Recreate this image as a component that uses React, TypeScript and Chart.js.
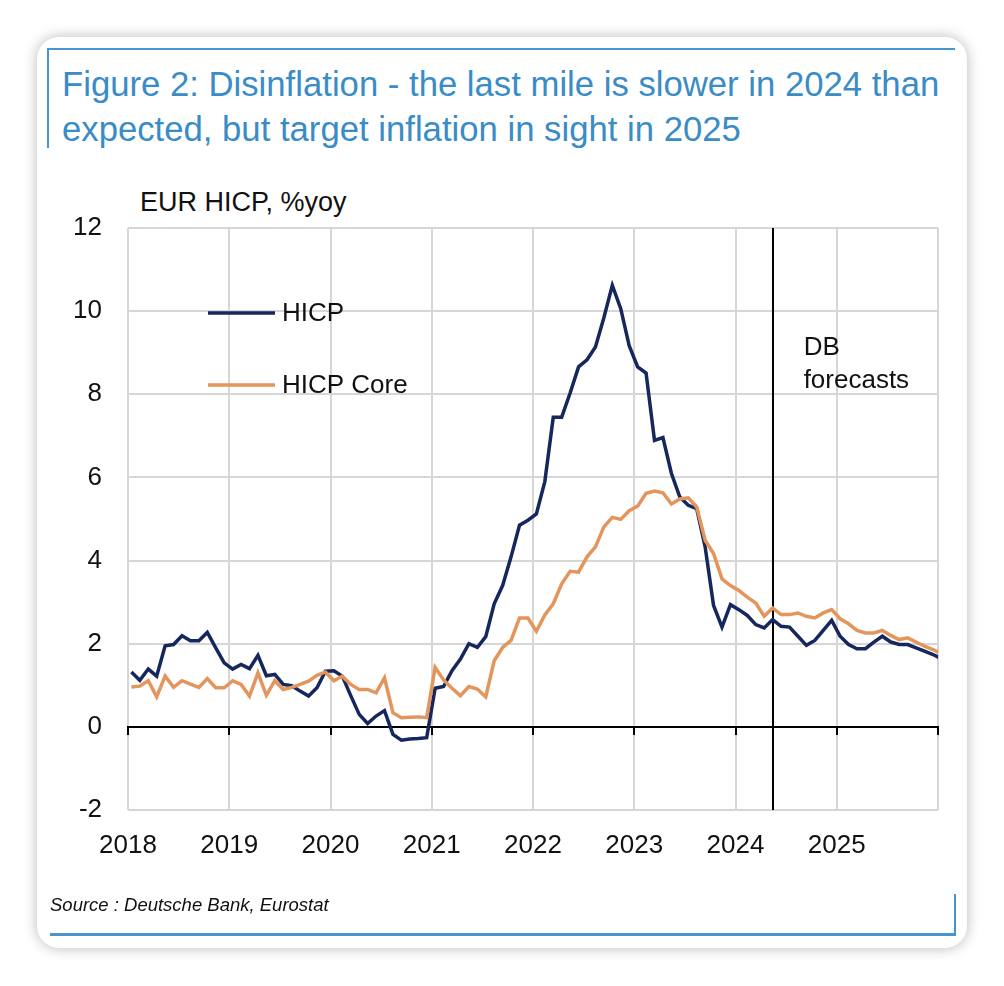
import React, { useEffect, useRef } from "react";
import { Chart, registerables } from "chart.js";

Chart.register(...registerables);

// ---- Data (monthly, Jan 2018 .. Jan 2026) ----
const YEAR_TICKS = ["2018", "2019", "2020", "2021", "2022", "2023", "2024", "2025"];
const FORECAST_START_INDEX = 76; // May 2024
const SERIES_NAMES = ["HICP", "HICP Core"];

const hicp2018 = [1.32, 1.12, 1.39, 1.22, 1.95, 1.98, 2.19, 2.07, 2.07, 2.27, 1.9, 1.54];
const hicp2019 = [1.39, 1.5, 1.4, 1.72, 1.23, 1.26, 1.02, 0.99, 0.86, 0.74, 0.94, 1.34];
const hicp2020 = [1.35, 1.22, 0.75, 0.3, 0.08, 0.26, 0.39, -0.18, -0.32, -0.29, -0.28, -0.26];
const hicp2021 = [0.93, 0.97, 1.35, 1.63, 2.0, 1.91, 2.17, 2.96, 3.4, 4.09, 4.85, 4.97];
const hicp2022 = [5.12, 5.9, 7.45, 7.45, 8.03, 8.66, 8.83, 9.14, 9.84, 10.62, 10.06, 9.17];
const hicp2023 = [8.66, 8.51, 6.89, 6.96, 6.1, 5.53, 5.33, 5.25, 4.33, 2.92, 2.4, 2.94];
const hicp2024 = [2.82, 2.68, 2.46, 2.38, 2.58, 2.42, 2.4, 2.18, 1.96, 2.08, 2.32, 2.56];
const hicp2025 = [2.18, 1.98, 1.88, 1.88, 2.04, 2.18, 2.04, 1.98, 1.98, 1.9, 1.82, 1.74];
const hicp2026 = [1.64];

const core2018 = [0.96, 0.98, 1.11, 0.72, 1.22, 0.95, 1.11, 1.03, 0.95, 1.16, 0.94, 0.94];
const core2019 = [1.11, 1.02, 0.74, 1.3, 0.76, 1.11, 0.9, 0.95, 1.02, 1.1, 1.24, 1.32];
const core2020 = [1.11, 1.22, 1.02, 0.9, 0.9, 0.82, 1.18, 0.34, 0.22, 0.23, 0.24, 0.22];
const core2021 = [1.43, 1.13, 0.93, 0.75, 0.97, 0.91, 0.72, 1.59, 1.91, 2.08, 2.62, 2.62];
const core2022 = [2.3, 2.69, 2.96, 3.44, 3.74, 3.72, 4.09, 4.33, 4.81, 5.04, 4.99, 5.2];
const core2023 = [5.31, 5.62, 5.67, 5.63, 5.36, 5.48, 5.51, 5.29, 4.49, 4.17, 3.56, 3.4];
const core2024 = [3.28, 3.12, 2.98, 2.66, 2.86, 2.7, 2.7, 2.74, 2.66, 2.62, 2.74, 2.82];
const core2025 = [2.6, 2.48, 2.32, 2.26, 2.26, 2.32, 2.2, 2.1, 2.14, 2.04, 1.94, 1.86];
const core2026 = [1.76];

const hicp = [
  ...hicp2018, ...hicp2019, ...hicp2020, ...hicp2021,
  ...hicp2022, ...hicp2023, ...hicp2024, ...hicp2025, ...hicp2026,
];
const core = [
  ...core2018, ...core2019, ...core2020, ...core2021,
  ...core2022, ...core2023, ...core2024, ...core2025, ...core2026,
];

const MONTH_OFFSET = 0.4; // mid-month placement relative to year gridline
const X_MAX = YEAR_TICKS.length * 12;

const NAVY = "#15275c";
const ORANGE = "#e3955b";
const GRID = "#d6d6d6";
const FONT = "'Liberation Sans', Arial, Helvetica, sans-serif";

const toXY = (arr: number[]) => arr.map((v, i) => ({ x: i + MONTH_OFFSET, y: v }));

const overlayPlugin = {
  id: "overlay",
  beforeDatasetsDraw(chart: any) {
    const { ctx, chartArea, scales } = chart;
    const x = scales.x;
    const y = scales.y;
    ctx.save();
    ctx.strokeStyle = "#000";
    ctx.lineWidth = 2;
    const y0 = Math.round(y.getPixelForValue(0));
    ctx.beginPath();
    ctx.moveTo(chartArea.left - 1, y0);
    ctx.lineTo(chartArea.right + 1, y0);
    for (let m = 0; m <= X_MAX; m += 12) {
      const px = Math.round(x.getPixelForValue(m));
      ctx.moveTo(px, y0);
      ctx.lineTo(px, y0 + 8);
    }
    ctx.stroke();
    // forecast divider
    const fx = Math.round(x.getPixelForValue(FORECAST_START_INDEX + MONTH_OFFSET));
    ctx.beginPath();
    ctx.moveTo(fx, chartArea.top);
    ctx.lineTo(fx, chartArea.bottom);
    ctx.stroke();
    ctx.restore();
  },
  afterDraw(chart: any) {
    const { ctx, chartArea, scales } = chart;
    const x = scales.x;
    ctx.save();
    const items = [
      { label: SERIES_NAMES[0], color: NAVY, yPx: chartArea.top + 85 },
      { label: SERIES_NAMES[1], color: ORANGE, yPx: chartArea.top + 157 },
    ];
    ctx.font = `26px ${FONT}`;
    ctx.textBaseline = "middle";
    ctx.textAlign = "left";
    items.forEach((it) => {
      ctx.strokeStyle = it.color;
      ctx.lineWidth = 3.5;
      ctx.beginPath();
      ctx.moveTo(chartArea.left + 80, it.yPx);
      ctx.lineTo(chartArea.left + 147, it.yPx);
      ctx.stroke();
      ctx.fillStyle = "#111";
      ctx.fillText(it.label, chartArea.left + 154, it.yPx + 1);
    });
    const fx = x.getPixelForValue(FORECAST_START_INDEX + MONTH_OFFSET);
    ctx.fillText("DB", fx + 31, chartArea.top + 120);
    ctx.fillText("forecasts", fx + 31, chartArea.top + 153);
    ctx.restore();
  },
};

function ChartCanvas() {
  const ref = useRef<HTMLCanvasElement | null>(null);
  useEffect(() => {
    if (!ref.current) return;
    const chart = new Chart(ref.current, {
      type: "line",
      data: {
        datasets: [
          {
            label: SERIES_NAMES[0],
            data: toXY(hicp),
            borderColor: NAVY,
            borderWidth: 3.5,
            pointRadius: 0,
            tension: 0,
            order: 1,
          },
          {
            label: SERIES_NAMES[1],
            data: toXY(core),
            borderColor: ORANGE,
            borderWidth: 3.5,
            pointRadius: 0,
            tension: 0,
            order: 0,
          },
        ],
      },
      options: {
        responsive: false,
        animation: false,
        devicePixelRatio: 1,
        layout: { padding: { left: 0, top: 228, right: 66, bottom: 0 } },
        plugins: {
          legend: { display: false },
          tooltip: { enabled: false },
          title: { display: false },
        },
        scales: {
          x: {
            type: "linear",
            min: 0,
            max: X_MAX,
            afterBuildTicks: (s: any) => {
              const t = [];
              for (let m = 0; m <= X_MAX; m += 12) t.push({ value: m });
              s.ticks = t;
            },
            ticks: {
              autoSkip: false,
              maxRotation: 0,
              padding: 20,
              color: "#111",
              font: { size: 26, family: FONT },
              callback: (v: any) => {
                const idx = Math.round(Number(v) / 12);
                return YEAR_TICKS[idx] ?? "";
              },
            },
            grid: { color: GRID, lineWidth: 2, drawTicks: false },
            border: { display: false },
            afterFit: (s: any) => {
              s.height = 176;
            },
          },
          y: {
            min: -2,
            max: 12,
            ticks: {
              stepSize: 2,
              padding: 26,
              color: "#111",
              font: { size: 26, family: FONT },
            },
            grid: { color: GRID, lineWidth: 2, drawTicks: false },
            border: { display: false },
            afterFit: (s: any) => {
              s.width = 128;
            },
          },
        },
      },
      plugins: [overlayPlugin],
    } as any);
    return () => chart.destroy();
  }, []);
  return (
    <canvas
      ref={ref}
      width={1004}
      height={986}
      style={{ position: "absolute", left: 0, top: 0, width: 1004, height: 986 }}
    />
  );
}

export default function App() {
  const blue = "#4a93cc";
  return (
    <div
      style={{
        position: "absolute",
        left: 0,
        top: 0,
        width: 1004,
        height: 986,
        background: "#ffffff",
        fontFamily: FONT,
        overflow: "hidden",
      }}
    >
      <div
        style={{
          position: "absolute",
          left: 37,
          top: 37,
          width: 930,
          height: 911,
          borderRadius: 22,
          background: "#fff",
          boxShadow: "0 0 14px rgba(0,0,0,0.28)",
        }}
      />
      <div style={{ position: "absolute", left: 48, top: 48, width: 907, height: 2, background: blue }} />
      <div style={{ position: "absolute", left: 47, top: 48, width: 2, height: 100, background: blue }} />
      <div style={{ position: "absolute", left: 50, top: 933, width: 906, height: 3, background: blue }} />
      <div style={{ position: "absolute", left: 954, top: 894, width: 2, height: 42, background: blue }} />
      <div
        style={{
          position: "absolute",
          left: 62,
          top: 62,
          color: "#3a8cc6",
          fontSize: 34.7,
          lineHeight: "45px",
          whiteSpace: "nowrap",
        }}
      >
        <div>Figure 2: Disinflation - the last mile is slower in 2024 than</div>
        <div>expected, but target inflation in sight in 2025</div>
      </div>
      <div
        style={{
          position: "absolute",
          left: 140,
          top: 189,
          fontSize: 27,
          lineHeight: "27px",
          color: "#111",
          whiteSpace: "nowrap",
        }}
      >
        EUR HICP, %yoy
      </div>
      <ChartCanvas />
      <div
        style={{
          position: "absolute",
          left: 50,
          top: 896,
          fontSize: 18.5,
          lineHeight: "18px",
          fontStyle: "italic",
          color: "#111",
          whiteSpace: "nowrap",
        }}
      >
        Source : Deutsche Bank, Eurostat
      </div>
    </div>
  );
}
